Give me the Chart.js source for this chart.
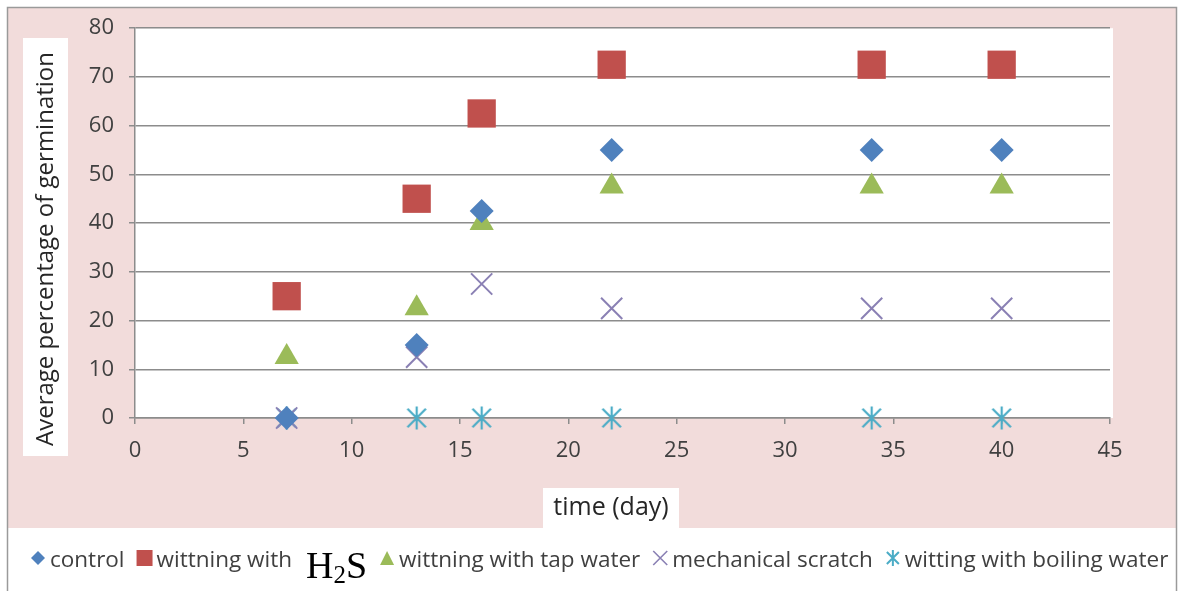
<!DOCTYPE html>
<html>
<head>
<meta charset="utf-8">
<script src="https://cdn.jsdelivr.net/npm/chart.js@4.4.0/dist/chart.umd.min.js"></script>
<style>
  body { margin: 0; background: #fff; }
  #wrap { width: 1180px; height: 592px; }
</style>
</head>
<body>
<div id="wrap"><canvas id="germChart" width="1180" height="592"></canvas></div>
<script>
// data
const days = [7, 13, 16, 22, 34, 40];
const control = [0, 15, 42.5, 55, 55, 55];
const withH2S = [25, 45, 62.5, 72.5, 72.5, 72.5];
const tapWater = [12.5, 22.5, 40, 47.5, 47.5, 47.5];
const scratch = [0, 12.5, 27.5, 22.5, 22.5, 22.5];
const boilingWater = [0, 0, 0, 0, 0, 0];

const seriesNames = ['control', 'wittning with', 'wittning with tap water', 'mechanical scratch', 'witting with boiling water'];
const xTicks = [0, 5, 10, 15, 20, 25, 30, 35, 40, 45];
const yTicks = [0, 10, 20, 30, 40, 50, 60, 70, 80];

const yTitle = 'Average percentage of germination';
const xTitle = 'time (day)';

const colors = ['#4f81bd', '#c0504d', '#9bbb59', '#8a80b4', '#4bacc6'];
const FONT = '"Open Sans", sans-serif';

// excel style asterisk (x with a vertical bar)
function makeAsterisk(size, color, lw) {
    const c = document.createElement('canvas');
    c.width = size; c.height = size;
    const g = c.getContext('2d');
    const m = size / 2, r = size / 2 - 1.5;
    g.strokeStyle = color;
    g.lineWidth = lw;
    g.beginPath();
    g.moveTo(m - r * 0.8, m - r * 0.8); g.lineTo(m + r * 0.8, m + r * 0.8);
    g.moveTo(m + r * 0.8, m - r * 0.8); g.lineTo(m - r * 0.8, m + r * 0.8);
    g.moveTo(m, m - r); g.lineTo(m, m + r);
    g.stroke();
    return c;
}
const starBig = makeAsterisk(26, colors[4], 2.2);

function pts(values) {
    return days.map((d, i) => ({ x: d, y: values[i] }));
}

function legendMarker(ctx, kind, x, y, color) {
    ctx.save();
    ctx.fillStyle = color;
    ctx.strokeStyle = color;
    ctx.beginPath();
    if (kind === 'diamond') {
        ctx.moveTo(x - 7, y); ctx.lineTo(x, y - 7); ctx.lineTo(x + 7, y); ctx.lineTo(x, y + 7);
        ctx.closePath(); ctx.fill();
    } else if (kind === 'square') {
        ctx.rect(x - 8, y - 8, 16, 16); ctx.fill();
    } else if (kind === 'triangle') {
        ctx.moveTo(x - 7, y + 7); ctx.lineTo(x, y - 7); ctx.lineTo(x + 7, y + 7);
        ctx.closePath(); ctx.fill();
    } else if (kind === 'cross') {
        ctx.lineWidth = 1.6;
        ctx.moveTo(x - 7, y - 7); ctx.lineTo(x + 7, y + 7);
        ctx.moveTo(x + 7, y - 7); ctx.lineTo(x - 7, y + 7);
        ctx.stroke();
    } else {
        ctx.lineWidth = 2;
        ctx.moveTo(x - 6, y - 6); ctx.lineTo(x + 6, y + 6);
        ctx.moveTo(x + 6, y - 6); ctx.lineTo(x - 6, y + 6);
        ctx.moveTo(x, y - 8); ctx.lineTo(x, y + 8);
        ctx.stroke();
    }
    ctx.restore();
}

const excelFrame = {
    id: 'excelFrame',
    beforeDraw(chart) {
        const ctx = chart.ctx;
        const a = chart.chartArea;
        ctx.save();
        ctx.fillStyle = '#ffffff';
        ctx.fillRect(0, 0, chart.width, chart.height);
        ctx.fillStyle = '#f2dcdb';
        ctx.fillRect(8, 7, 1169, 522);
        ctx.fillStyle = '#ffffff';
        ctx.fillRect(a.left, a.top, a.right - a.left + 3, a.bottom - a.top);
        ctx.restore();
    },
    afterDraw(chart) {
        const ctx = chart.ctx;
        ctx.save();

        // legend band
        ctx.fillStyle = '#ffffff';
        ctx.fillRect(8, 528, 1169, 62);

        // y title box
        ctx.fillRect(23, 38, 45, 418);
        ctx.fillStyle = '#262626';
        ctx.font = '24px ' + FONT;
        ctx.textAlign = 'center';
        ctx.textBaseline = 'middle';
        ctx.translate(46, 249);
        ctx.rotate(-Math.PI / 2);
        ctx.fillText(yTitle, 0, 0);
        ctx.setTransform(1, 0, 0, 1, 0, 0);

        // x title box
        ctx.fillStyle = '#ffffff';
        ctx.fillRect(543, 488, 136, 42);
        ctx.fillStyle = '#262626';
        ctx.font = '25px ' + FONT;
        ctx.fillText(xTitle, 611, 508);

        // frame lines
        ctx.strokeStyle = '#9a9a9a';
        ctx.lineWidth = 1.5;
        ctx.beginPath();
        ctx.moveTo(7.5, 591); ctx.lineTo(7.5, 7.5); ctx.lineTo(1176.5, 7.5); ctx.lineTo(1176.5, 591);
        ctx.stroke();

        // legend
        const kinds = ['diamond', 'square', 'triangle', 'cross', 'star'];
        const ly = 558;
        let x = 30;
        ctx.textAlign = 'left';
        ctx.textBaseline = 'alphabetic';
        seriesNames.forEach((name, i) => {
            legendMarker(ctx, kinds[i], x + 8, ly, colors[i]);
            x += 20;
            ctx.fillStyle = '#404040';
            ctx.font = '22.5px ' + FONT;
            ctx.fillText(name, x, 567);
            x += ctx.measureText(name).width;
            if (i === 1) {
                x += 14;
                ctx.fillStyle = '#000000';
                ctx.font = '38px "Liberation Serif", serif';
                ctx.fillText('H', x, 578);
                x += ctx.measureText('H').width;
                ctx.font = '25px "Liberation Serif", serif';
                ctx.fillText('2', x, 583);
                x += ctx.measureText('2').width;
                ctx.font = '38px "Liberation Serif", serif';
                ctx.fillText('S', x, 578);
                x += ctx.measureText('S').width;
            }
            x += 12;
        });
        ctx.restore();
    }
};

new Chart(document.getElementById('germChart'), {
    type: 'scatter',
    data: {
        datasets: [
            { label: seriesNames[0], data: pts(control), pointStyle: 'rectRot', pointRadius: 12, backgroundColor: colors[0], borderColor: colors[0], borderWidth: 0, clip: false },
            { label: seriesNames[1] + ' H2S', data: pts(withH2S), pointStyle: 'rect', pointRadius: 20, backgroundColor: colors[1], borderColor: colors[1], borderWidth: 0, clip: false },
            { label: seriesNames[2], data: pts(tapWater), pointStyle: 'triangle', pointRadius: 14, backgroundColor: colors[2], borderColor: colors[2], borderWidth: 0, clip: false },
            { label: seriesNames[3], data: pts(scratch), pointStyle: 'crossRot', pointRadius: 15, backgroundColor: colors[3], borderColor: colors[3], borderWidth: 2, clip: false },
            { label: seriesNames[4], data: pts(boilingWater), pointStyle: starBig, backgroundColor: colors[4], borderColor: colors[4], clip: false }
        ]
    },
    options: {
        responsive: false,
        animation: false,
        layout: { padding: { top: 23, right: 70, left: 0, bottom: 0 } },
        plugins: {
            legend: { display: false },
            tooltip: { enabled: false }
        },
        scales: {
            x: {
                type: 'linear',
                min: 0,
                max: 45,
                afterFit(scale) { scale.height = 174; },
                afterBuildTicks(scale) { scale.ticks = xTicks.map(v => ({ value: v })); },
                grid: { drawOnChartArea: false, color: '#8c8c8c', lineWidth: 1.5, tickLength: 6 },
                border: { color: '#8c8c8c', width: 1.5 },
                ticks: { color: '#404040', font: { family: FONT, size: 22 }, padding: 14 }
            },
            y: {
                min: 0,
                max: 80,
                afterFit(scale) { scale.width = 135; },
                afterBuildTicks(scale) { scale.ticks = yTicks.map(v => ({ value: v })); },
                grid: { color: '#8c8c8c', lineWidth: 1.5, tickLength: 6 },
                border: { color: '#8c8c8c', width: 1.5 },
                ticks: { color: '#404040', font: { family: FONT, size: 22 }, padding: 15 }
            }
        }
    },
    plugins: [excelFrame]
});
</script>
</body>
</html>
